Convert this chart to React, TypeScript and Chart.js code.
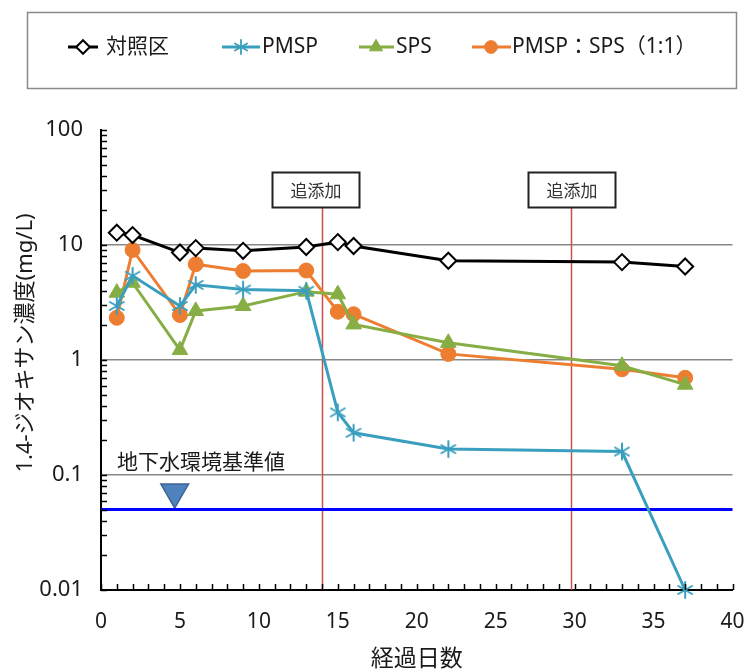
import React, { useEffect, useRef } from "react";
import { Chart, registerables } from "chart.js";
import { drawPoint } from "chart.js/helpers";
Chart.register(...registerables);

// ---- data ----
const days = [1, 2, 5, 6, 9, 13, 15, 16, 22, 33, 37];
const controlValues = [12.8, 12.2, 8.6, 9.4, 8.9, 9.6, 10.6, 9.8, 7.3, 7.1, 6.5];
const pmspValues = [2.95, 5.4, 2.95, 4.5, 4.1, 4.0, 0.35, 0.233, 0.168, 0.16, 0.01];
const spsValues = [3.85, 4.7, 1.22, 2.67, 2.95, 3.93, 3.73, 2.04, 1.41, 0.89, 0.61];
const mixValues = [2.33, 9.05, 2.46, 6.8, 5.94, 6.0, 2.63, 2.5, 1.13, 0.83, 0.7];
const seriesNames = ["対照区", "PMSP", "SPS", "PMSP：SPS（1:1）"];
const additionDays = [14, 29.8];
const additionLabel = "追添加";
const standardValue = 0.05;
const standardLabel = "地下水環境基準値";
const standardMarkerDay = 4.67;
const standardMarkerValue = 0.071;
const yTickValues = [0.01, 0.1, 1, 10, 100];
const yTickLabels = ["0.01", "0.1", "1", "10", "100"];
const xMin = 0;
const xMax = 40;
const xStep = 5;
const xTitle = "経過日数";
const yTitle = "1.4-ジオキサン濃度(mg/L)";

const FONT = "'Noto Sans', 'Noto Sans CJK JP', sans-serif";
const CJK = "'Noto Sans CJK JP', 'Noto Sans', sans-serif";

// 6-spoke asterisk marker for PMSP
function makeAsterisk(r: number, color: string, lw: number) {
  const size = Math.ceil(2 * r + lw * 2);
  const c = document.createElement("canvas");
  c.width = size;
  c.height = size;
  const g = c.getContext("2d")!;
  g.strokeStyle = color;
  g.lineWidth = lw;
  g.lineCap = "round";
  const cx = size / 2;
  for (let k = 0; k < 3; k++) {
    const a = (Math.PI / 3) * k + Math.PI / 2;
    g.beginPath();
    g.moveTo(cx + Math.cos(a) * r, cx + Math.sin(a) * r);
    g.lineTo(cx - Math.cos(a) * r, cx - Math.sin(a) * r);
    g.stroke();
  }
  return c;
}

const seriesStyles = [
  { color: "#000000", pointStyle: "rectRot", radius: 8, fill: "#ffffff", borderWidth: 2 },
  { color: "#3A9FBF", pointStyle: "star", radius: 8, fill: "#3A9FBF", borderWidth: 2 },
  { color: "#86AE45", pointStyle: "triangle", radius: 9, fill: "#86AE45", borderWidth: 1 },
  { color: "#ED7D31", pointStyle: "circle", radius: 7.5, fill: "#ED7D31", borderWidth: 1 },
];
const seriesValues = [controlValues, pmspValues, spsValues, mixValues];

const legendItems = [
  { lineX1: 68, lineX2: 98, markX: 83, textX: 106 },
  { lineX1: 222, lineX2: 260, markX: 241, textX: 262 },
  { lineX1: 359, lineX2: 394, markX: 376, textX: 396 },
  { lineX1: 472, lineX2: 511, markX: 491, textX: 512 },
];
const boxOffsets = [-6.5, 0];

const decorPlugin = {
  id: "decor",
  beforeDatasetsDraw(chart: any) {
    const { ctx, chartArea, scales } = chart;
    const x = scales.x;
    ctx.save();
    ctx.strokeStyle = "#C9504D";
    ctx.lineWidth = 1.5;
    additionDays.forEach((d) => {
      const px = Math.round(x.getPixelForValue(d)) + 0.5;
      ctx.beginPath();
      ctx.moveTo(px, 207);
      ctx.lineTo(px, chartArea.bottom);
      ctx.stroke();
    });
    ctx.restore();
  },
  afterDraw(chart: any) {
    const { ctx, chartArea, scales } = chart;
    const x = scales.x;
    const y = scales.y;
    ctx.save();

    // inner ticks
    ctx.strokeStyle = "#000";
    ctx.lineWidth = 1.5;
    const yTick = (v: number) => {
      const py = Math.round(y.getPixelForValue(v)) + 0.5;
      ctx.beginPath();
      ctx.moveTo(chartArea.left, py);
      ctx.lineTo(chartArea.left + 6, py);
      ctx.stroke();
    };
    for (let e = -2; e <= 1; e++) {
      for (let k = 1; k <= 9; k++) yTick(k * Math.pow(10, e));
    }
    yTick(100);
    for (let d = xMin; d <= xMax; d++) {
      const px = Math.round(x.getPixelForValue(d)) + 0.5;
      ctx.beginPath();
      ctx.moveTo(px, chartArea.bottom);
      ctx.lineTo(px, chartArea.bottom - 6);
      ctx.stroke();
    }

    // addition boxes
    additionDays.forEach((d, i) => {
      const cx = x.getPixelForValue(d) + boxOffsets[i];
      const bw = 87;
      const bh = 35;
      const bx = Math.round(cx - bw / 2) + 0.5;
      const by = 172.5;
      ctx.fillStyle = "#ffffff";
      ctx.fillRect(bx, by, bw, bh);
      ctx.strokeStyle = "#222";
      ctx.lineWidth = 2;
      ctx.strokeRect(bx, by, bw, bh);
      ctx.fillStyle = "#333";
      ctx.font = `17px ${CJK}`;
      ctx.textAlign = "center";
      ctx.textBaseline = "middle";
      ctx.fillText(additionLabel, bx + bw / 2, by + bh / 2 + 1);
    });

    // standard label
    ctx.fillStyle = "#1a1a1a";
    ctx.font = `21px ${CJK}`;
    ctx.textAlign = "left";
    ctx.textBaseline = "middle";
    ctx.fillText(standardLabel, 117, 461);

    // axis titles
    ctx.fillStyle = "#1a1a1a";
    ctx.font = `23px ${CJK}`;
    ctx.textAlign = "center";
    ctx.textBaseline = "middle";
    ctx.fillText(xTitle, (chartArea.left + chartArea.right) / 2, 657);

    ctx.save();
    ctx.translate(26, 343);
    ctx.rotate(-Math.PI / 2);
    ctx.font = `22px ${FONT}`;
    ctx.fillText(yTitle, 0, 0);
    ctx.restore();

    // legend
    ctx.strokeStyle = "#8a8a8a";
    ctx.lineWidth = 1.5;
    ctx.strokeRect(27.5, 12.5, 709, 76);
    const ly = 47;
    legendItems.forEach((it, i) => {
      const st = seriesStyles[i];
      ctx.strokeStyle = st.color;
      ctx.lineWidth = 3;
      ctx.beginPath();
      ctx.moveTo(it.lineX1, ly);
      ctx.lineTo(it.lineX2, ly);
      ctx.stroke();
      ctx.fillStyle = st.fill;
      ctx.strokeStyle = st.color;
      ctx.lineWidth = st.borderWidth;
      const ps = i === 1 ? makeAsterisk(7, st.color, 1.8) : st.pointStyle;
      drawPoint(ctx, { pointStyle: ps as any, rotation: 0, radius: st.radius * 0.85, borderWidth: st.borderWidth }, it.markX, ly);
      ctx.fillStyle = "#1a1a1a";
      ctx.font = `21px ${FONT}`;
      ctx.textAlign = "left";
      ctx.textBaseline = "middle";
      ctx.fillText(seriesNames[i], it.textX, ly);
    });

    ctx.restore();
  },
};

export default function App() {
  const ref = useRef<HTMLCanvasElement>(null);
  useEffect(() => {
    document.body.style.margin = "0";
    const canvas = ref.current!;
    const asterisk = makeAsterisk(8, seriesStyles[1].color, 2);
    const datasets: any[] = seriesValues.map((vals, i) => {
      const st = seriesStyles[i];
      return {
        label: seriesNames[i],
        data: days.map((d, j) => ({ x: d, y: vals[j] })),
        borderColor: st.color,
        borderWidth: 3,
        pointStyle: i === 1 ? asterisk : st.pointStyle,
        pointRadius: st.radius,
        pointBackgroundColor: st.fill,
        pointBorderColor: st.color,
        pointBorderWidth: st.borderWidth,
        tension: 0,
      };
    });
    datasets.push({
      label: "standard",
      data: [
        { x: xMin, y: standardValue },
        { x: xMax, y: standardValue },
      ],
      borderColor: "#0000FF",
      borderWidth: 3,
      pointRadius: 0,
    });
    datasets.push({
      label: "marker",
      data: [{ x: standardMarkerDay, y: standardMarkerValue }],
      showLine: false,
      pointStyle: "triangle",
      pointRotation: 180,
      pointRadius: 16,
      pointBackgroundColor: "#4F81BD",
      pointBorderColor: "#3B6494",
      pointBorderWidth: 1.5,
    });

    const chart = new Chart(canvas, {
      type: "line",
      data: { datasets },
      options: {
        responsive: false,
        animation: false,
        clip: false as any,
        layout: { padding: { top: 130, right: 15, left: 0, bottom: 0 } },
        plugins: { legend: { display: false }, tooltip: { enabled: false } },
        scales: {
          x: {
            type: "linear",
            min: xMin,
            max: xMax,
            ticks: { stepSize: xStep, padding: 19, color: "#1a1a1a", font: { family: FONT, size: 21 } },
            grid: { display: false, drawTicks: false },
            border: { color: "#000", width: 2 },
            afterFit: (s: any) => {
              s.height = 80;
              s.paddingLeft = 0;
              s.paddingRight = 0;
            },
          },
          y: {
            type: "logarithmic",
            min: 0.01,
            max: 100,
            afterBuildTicks: (s: any) => {
              s.ticks = yTickValues.map((v) => ({ value: v }));
            },
            ticks: {
              autoSkip: false,
              padding: 18,
              color: "#1a1a1a",
              font: { family: FONT, size: 22 },
              callback: (v: any) => {
                const idx = yTickValues.findIndex((t) => Math.abs(t - Number(v)) < t * 1e-6);
                return idx >= 0 ? yTickLabels[idx] : "";
              },
            },
            grid: {
              drawTicks: false,
              lineWidth: 1.5,
              color: (c: any) => {
                const v = c.tick ? c.tick.value : 0;
                return v > 0.05 && v < 50 ? "#888888" : "rgba(0,0,0,0)";
              },
            },
            border: { color: "#000", width: 2 },
            afterFit: (s: any) => {
              s.width = 101;
              s.paddingTop = 0;
              s.paddingBottom = 0;
            },
          },
        },
      },
      plugins: [decorPlugin],
    });
    return () => chart.destroy();
  }, []);
  return <canvas ref={ref} width={750} height={670} style={{ display: "block", width: 750, height: 670 }} />;
}
